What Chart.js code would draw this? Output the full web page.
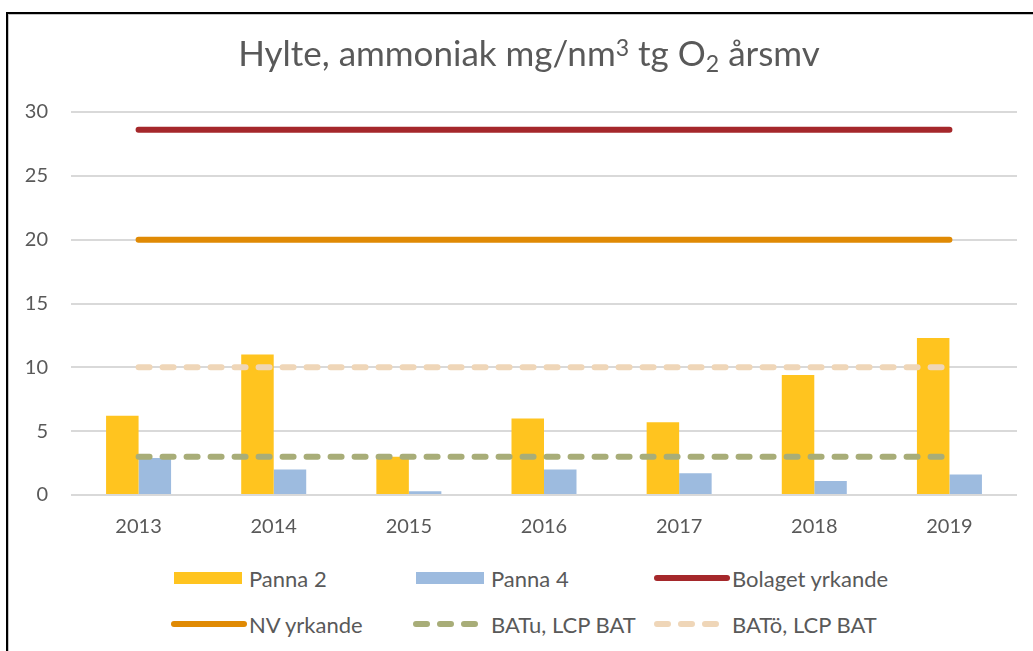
<!DOCTYPE html>
<html>
<head>
<meta charset="utf-8">
<script src="https://cdn.jsdelivr.net/npm/chart.js@4.4.1/dist/chart.umd.min.js"></script>
<style>
  body { margin: 0; background: #fff; }
  #frame {
    position: absolute; left: 6px; top: 12px; width: 1040px; height: 660px;
    border: 2px solid #000; box-shadow: inset 1px 1px 0 #c4c4c4;
    pointer-events: none;
  }
  #chartBox { position: absolute; left: 0; top: 0; width: 1033px; height: 551px; }
  #title {
    position: absolute; left: 0; top: 31px; width: 1058px; text-align: center;
    font-family: Lato, sans-serif; font-size: 35px; line-height: 42px; color: #595959; white-space: nowrap;
  }
  #title sup, #title sub { font-size: 0.66em; line-height: 0; }
  #title sup { vertical-align: 0.42em; }
  #title sub { vertical-align: -0.28em; }
  .item { position: absolute; height: 30px; display: flex; align-items: center;
          font-family: Lato, sans-serif; font-size: 22px; color: #595959; white-space: nowrap; }
  .item svg { margin-right: 2px; }
</style>
</head>
<body>
<div id="chartBox"><canvas id="hylteChart"></canvas></div>
<div id="title">Hylte, ammoniak mg/nm<sup>3</sup> tg O<sub>2</sub> årsmv</div>
<div id="legend"></div>
<div id="frame"></div>
<script>
// Years on the x axis
const years = ["2013", "2014", "2015", "2016", "2017", "2018", "2019"];

// Annual means, mg/nm3
const panna2 = [6.2, 11.0, 3.0, 6.0, 5.7, 9.4, 12.3];
const panna4 = [2.9, 2.0, 0.3, 2.0, 1.7, 1.1, 1.6];

// Limit / claim levels
const bolagetYrkande = [28.6, 28.6, 28.6, 28.6, 28.6, 28.6, 28.6];
const nvYrkande = [20, 20, 20, 20, 20, 20, 20];
const batU = [3, 3, 3, 3, 3, 3, 3];
const batO = [10, 10, 10, 10, 10, 10, 10];

const yTicks = [0, 5, 10, 15, 20, 25, 30];

const textColor = "#595959";
const fontFamily = "Lato, sans-serif";

function lineSet(label, data, color, dashed) {
    return {
        type: "line",
        label: label,
        data: data,
        borderColor: color,
        backgroundColor: color,
        borderWidth: 6,
        borderCapStyle: "round",
        borderDash: dashed ? [11, 13] : [],
        pointRadius: 0,
        fill: false,
        order: 0
    };
}

const datasets = [
    { label: "Panna 2", data: panna2, backgroundColor: "#FFC41F", order: 2 },
    { label: "Panna 4", data: panna4, backgroundColor: "#9DBBDF", order: 2 },
    lineSet("Bolaget yrkande", bolagetYrkande, "#A5282B", false),
    lineSet("NV yrkande", nvYrkande, "#E08A04", false),
    lineSet("BATu, LCP BAT", batU, "#A8AD78", true),
    lineSet("BATö, LCP BAT", batO, "#EFD6B8", true)
];

const ctx = document.getElementById("hylteChart");
const hylteChart = new Chart(ctx, {
    type: "bar",
    data: { labels: years, datasets: datasets },
    options: {
        responsive: true,
        maintainAspectRatio: false,
        animation: false,
        datasets: { bar: { barPercentage: 1, categoryPercentage: 0.481 } },
        layout: { padding: { left: 0, right: 16, top: 112, bottom: 0 } },
        plugins: {
            legend: { display: false },
            tooltip: { enabled: false }
        },
        scales: {
            x: {
                grid: { display: false },
                border: { display: false },
                ticks: { color: textColor, font: { family: fontFamily, size: 20 }, padding: 12 }
            },
            y: {
                min: 0,
                max: 30,
                afterBuildTicks: (scale) => { scale.ticks = yTicks.map(v => ({ value: v })); },
                afterFit: (scale) => { scale.width = 71; },
                grid: { color: "#D9D9D9", lineWidth: 2, drawTicks: false },
                border: { display: false },
                ticks: { color: textColor, font: { family: fontFamily, size: 20 }, padding: 23 }
            }
        }
    }
});

// Legend laid out as a 3x2 grid like the original
const legendCols = [171, 413, 654];
const legendRows = [578, 624];
const legendEl = document.getElementById("legend");
datasets.forEach((ds, i) => {
    const item = document.createElement("div");
    item.className = "item";
    item.style.left = legendCols[i % 3] + "px";
    item.style.top = (legendRows[Math.floor(i / 3)] - 15) + "px";
    let mark;
    if (ds.type === "line") {
        const dash = ds.borderDash.length ? `stroke-dasharray="${ds.borderDash.join(" ")}"` : "";
        mark = `<line x1="3" y1="8" x2="73" y2="8" stroke="${ds.borderColor}" stroke-width="6" stroke-linecap="round" ${dash}/>`;
    } else {
        mark = `<rect x="3" y="2" width="68" height="12" fill="${ds.backgroundColor}"/>`;
    }
    item.innerHTML = `<svg width="76" height="16">${mark}</svg><span>${ds.label}</span>`;
    legendEl.appendChild(item);
});
</script>
</body>
</html>
